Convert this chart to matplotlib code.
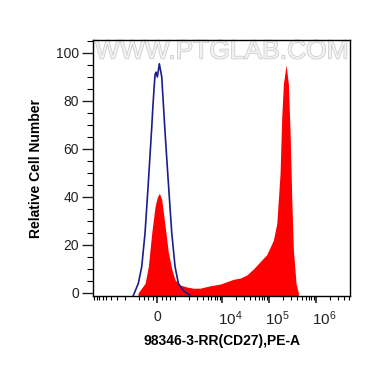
import matplotlib
matplotlib.use("Agg")
import matplotlib.pyplot as plt
import matplotlib.patheffects as pe
import matplotlib.transforms as mtrans
import numpy as np

plt.rcParams['font.family'] = ['Liberation Sans', 'DejaVu Sans']
plt.rcParams['mathtext.fontset'] = 'custom'
plt.rcParams['mathtext.rm'] = 'Liberation Sans'
plt.rcParams['mathtext.it'] = 'Liberation Sans'
plt.rcParams['mathtext.default'] = 'regular'

# ---- data (fluorescence intensity, relative cell number) ----
blue_x = [-1330, -1042, -857, -672, -487, -297, -230, -160, -112, -56, 17, 80, 129, 263, 448, 632, 823, 1007, 1183, 1513, 2099]
blue_y = [-1, 4, 11, 25, 46, 69, 78, 86, 91, 92, 90, 93, 95.5, 90, 67, 46, 25, 11, 4, 1, -1]

red_x = [-1057, -672, -487, -297, -112, 17, 129, 263, 448, 632, 823, 1007, 1285, 1786, 2466,
         3428, 5598, 9120, 12680, 17500, 24320, 33800, 46670, 64710, 89950, 105700, 124200,
         146900, 160000, 172600, 187000, 202800, 231700, 259400, 281800, 306200, 331100,
         377600, 422700]
red_y = [0, 4, 11, 25, 36, 40, 41.5, 39, 28, 17, 10, 5.5, 3.3, 2.5, 2, 2, 3, 3.7, 4.7, 5.7,
         6.2, 7.5, 10, 13, 16, 19, 22, 29, 40, 50, 73, 87, 95, 87, 67, 39, 18, 4, 0]

x_ticks = [0, 1e4, 1e5, 1e6]
x_ticklabels = ['0', '$10^4$', '$10^5$', '$10^6$']
y_ticks = [0, 20, 40, 60, 80, 100]
x_label = '98346-3-RR(CD27),PE-A'
y_label = 'Relative Cell Number'
watermark = 'WWW.PTGLAB.COM'

fig = plt.figure(figsize=(3.70, 3.67), dpi=100)
ax = fig.add_axes([93/370, 1-296/367, (350-93)/370, (296-40)/367])

ax.set_xscale('symlog', linthresh=1000, linscale=0.342)
ax.set_xlim(-9600, 5.3e6)
ax.set_ylim(-1.25, 105.4)

ax.fill_between(red_x, red_y, -5, color='#ff0000', lw=0, zorder=2)
ax.plot(blue_x, blue_y, color='#1c1c8a', lw=1.2, zorder=3)

# ticks
ax.set_xticks(x_ticks)
ax.set_xticklabels(x_ticklabels)
minor = ([-k * 1000 for k in range(2, 10)] + list(np.arange(-1000, 1001, 250)) +
         [k * 1000 for k in range(2, 10)] + [k * 1e4 for k in range(2, 10)] +
         [k * 1e5 for k in range(2, 10)] + [k * 1e6 for k in range(2, 6)])
ax.set_xticks(minor, minor=True)
ax.set_yticks(y_ticks)
ax.set_yticks(np.arange(0, 106, 5), minor=True)

ax.tick_params(axis='x', which='major', length=5, width=1.2, direction='out', pad=5,
               labelsize=10, colors='#222222')
ax.tick_params(axis='x', which='minor', length=3, width=0.8, direction='out')
ax.tick_params(axis='y', which='major', length=8, width=1.0, direction='out', pad=2,
               labelsize=10, colors='#222222')
ax.tick_params(axis='y', which='minor', length=4, width=0.8, direction='out')

# decade labels: slightly larger, shifted right as in the reference
for lab in ax.get_xticklabels()[1:]:
    lab.set_fontsize(11)
    lab.set_transform(lab.get_transform() + mtrans.ScaledTranslation(8/100, 0, fig.dpi_scale_trans))

for s in ax.spines.values():
    s.set_linewidth(1.0)
    s.set_color('black')

ax.set_xlabel(x_label, fontsize=10, fontweight='bold', labelpad=4)
ax.set_ylabel(y_label, fontsize=10, fontweight='bold', labelpad=9)

ax.text(0.5, 0.955, watermark, transform=ax.transAxes, ha='center', va='center',
        fontsize=19, color='#f2f2f2', zorder=1,
        path_effects=[pe.withStroke(linewidth=1.0, foreground='#c8c8c8')])

fig.savefig('out.png', dpi=100)
